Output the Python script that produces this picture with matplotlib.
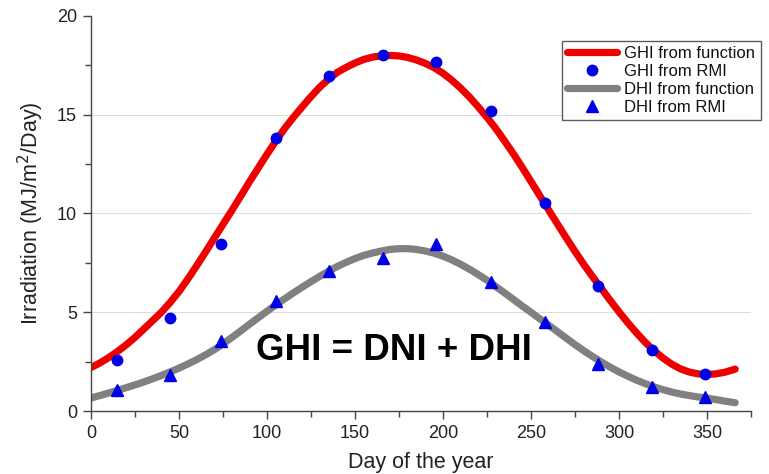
import matplotlib
matplotlib.use("Agg")
import matplotlib.pyplot as plt
from matplotlib.ticker import MultipleLocator

# ---- data ----
rmi_days = [15, 45, 74, 105, 135, 166, 196, 227, 258, 288, 319, 349]
ghi_rmi = [2.56, 4.72, 8.45, 13.8, 16.97, 18.02, 17.67, 15.2, 10.53, 6.35, 3.09, 1.85]
dhi_rmi = [1.07, 1.83, 3.55, 5.58, 7.10, 7.75, 8.48, 6.51, 4.50, 2.38, 1.24, 0.72]

func_days = [0, 5, 10, 15, 20, 25, 30, 35, 40, 45, 50, 55, 60, 65, 70, 75, 80, 85,
             90, 95, 100, 105, 110, 115, 120, 125, 130, 135, 140, 145, 150, 155, 160,
             165, 170, 175, 180, 185, 190, 195, 200, 205, 210, 215, 220, 225, 230,
             235, 240, 245, 250, 255, 260, 265, 270, 275, 280, 285, 290, 295, 300,
             305, 310, 315, 320, 325, 330, 335, 340, 345, 350, 355, 360, 366]
ghi_func = [2.2, 2.43, 2.7, 3.01, 3.35, 3.73, 4.15, 4.57, 5.0, 5.5, 6.05, 6.68, 7.35,
            8.04, 8.75, 9.45, 10.15, 10.87, 11.6, 12.3, 13.0, 13.67, 14.3, 14.87, 15.4,
            15.92, 16.4, 16.8, 17.15, 17.4, 17.62, 17.8, 17.92, 17.98, 18.0, 17.98,
            17.9, 17.77, 17.6, 17.38, 17.1, 16.75, 16.35, 15.9, 15.4, 14.87, 14.3,
            13.67, 13.02, 12.33, 11.62, 10.9, 10.18, 9.47, 8.77, 8.08, 7.42, 6.8, 6.2,
            5.6, 5.02, 4.47, 3.95, 3.47, 3.05, 2.68, 2.37, 2.13, 1.97, 1.88, 1.85,
            1.88, 1.96, 2.12]
dhi_func = [0.66, 0.78, 0.91, 1.04, 1.18, 1.32, 1.47, 1.63, 1.8, 1.98, 2.17, 2.38, 2.6,
            2.84, 3.1, 3.4, 3.72, 4.05, 4.39, 4.72, 5.05, 5.37, 5.68, 5.98, 6.27,
            6.55, 6.82, 7.08, 7.32, 7.53, 7.72, 7.88, 8.0, 8.1, 8.18, 8.22, 8.22,
            8.18, 8.1, 7.99, 7.84, 7.65, 7.43, 7.18, 6.91, 6.62, 6.3, 5.98, 5.65,
            5.32, 5.0, 4.67, 4.35, 4.02, 3.69, 3.36, 3.05, 2.76, 2.48, 2.22, 1.98,
            1.76, 1.56, 1.38, 1.22, 1.08, 0.96, 0.86, 0.78, 0.71, 0.65, 0.58, 0.5,
            0.42]

grid_levels = [5, 10, 15]
labels = ["GHI from function", "GHI from RMI", "DHI from function", "DHI from RMI"]
x_label = "Day of the year"
y_label = "Irradiation (MJ/m$^2$/Day)"
annotation = "GHI = DNI + DHI"

plt.rcParams['font.family'] = ['Liberation Sans', 'DejaVu Sans']

fig = plt.figure(figsize=(7.69, 4.74), dpi=100)
ax = fig.add_axes([91 / 769, 1 - 411 / 474, (751 - 91) / 769, (411 - 16) / 474])

blue = "#0000e6"
ax.plot(func_days, ghi_func, color="#ee0000", lw=5.2, solid_capstyle="round",
        solid_joinstyle="round", label=labels[0], zorder=2)
ax.plot(rmi_days, ghi_rmi, "o", color=blue, ms=7.5, ls="none", label=labels[1], zorder=3)
ax.plot(func_days, dhi_func, color="#808080", lw=5.2, solid_capstyle="round",
        solid_joinstyle="round", label=labels[2], zorder=2)
ax.plot(rmi_days, dhi_rmi, "^", color=blue, ms=8, ls="none", label=labels[3], zorder=3)

for g in grid_levels:
    ax.axhline(g, color="#dcdcdc", lw=0.8, zorder=0)

ax.set_xlim(0, 375)
ax.set_ylim(0, 20)
ax.xaxis.set_major_locator(MultipleLocator(50))
ax.xaxis.set_minor_locator(MultipleLocator(25))
ax.yaxis.set_major_locator(MultipleLocator(5))
ax.yaxis.set_minor_locator(MultipleLocator(2.5))

for s in ["top", "right"]:
    ax.spines[s].set_visible(False)
for s in ["left", "bottom"]:
    ax.spines[s].set_color("#444444")
    ax.spines[s].set_linewidth(1.0)

ax.tick_params(which="major", direction="out", length=6, width=1, color="#444444",
               labelsize=13, labelcolor="#222222", pad=4)
ax.tick_params(which="minor", direction="out", length=4, width=1, color="#444444")

ax.set_xlabel(x_label, fontsize=15.5, color="#222222", labelpad=7)
ax.set_ylabel(y_label, fontsize=15.5, color="#222222", labelpad=8)

ax.text(172, 3.05, annotation, fontsize=26.5, fontweight="bold", ha="center",
        va="center", color="black")

leg = fig.legend(loc="upper left", bbox_to_anchor=(562 / 769, 1 - 41 / 474),
                 frameon=True, fancybox=False, fontsize=12, handlelength=3.0,
                 handletextpad=0.45, borderpad=0.3, labelspacing=0.18,
                 borderaxespad=0)
leg.get_frame().set_edgecolor("#333333")
leg.get_frame().set_linewidth(1.0)
for t in leg.get_texts():
    t.set_color("#111111")

fig.savefig("out.png", dpi=100)
